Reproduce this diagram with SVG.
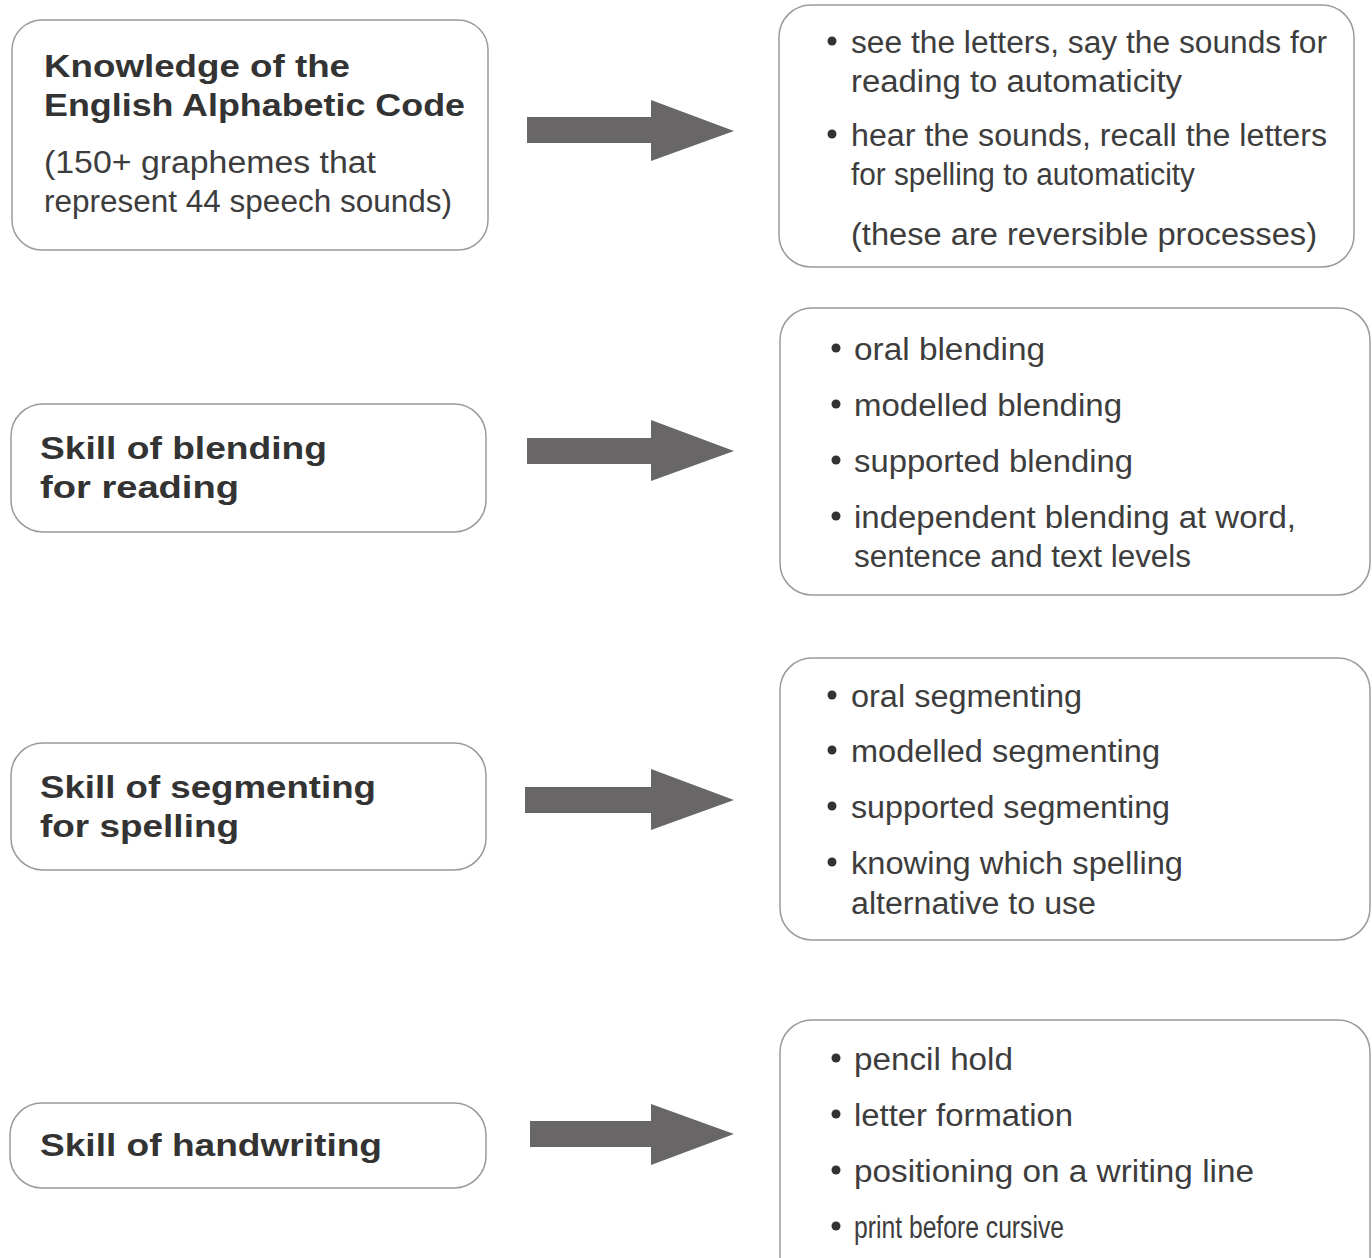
<svg xmlns="http://www.w3.org/2000/svg" width="1372" height="1258" viewBox="0 0 1372 1258">
<defs>
<style>
.box{fill:#fff;stroke:#9a9a9a;stroke-width:1.5}
.b{font-family:"Liberation Sans",Arial,sans-serif;font-weight:bold;font-size:32px;fill:#333}
.r{font-family:"Liberation Sans",Arial,sans-serif;font-size:31px;fill:#3d3d3d}
.dot{fill:#333}
.arrow{fill:#686667}
</style>
</defs>
<rect width="1372" height="1258" fill="#fff"/>

<g id="connectors">
<polygon class="arrow" points="527,117 651,117 651,100 734,131 651,161 651,143 527,143"/>
<polygon class="arrow" points="527,438 651,438 651,420 734,451 651,481 651,464 527,464"/>
<polygon class="arrow" points="525,787 651,787 651,769 734,800 651,830 651,813 525,813"/>
<polygon class="arrow" points="530,1121 651,1121 651,1104 734,1134 651,1165 651,1147 530,1147"/>
</g>

<g id="knowledge">
<rect class="box" x="12" y="20" width="476" height="230" rx="30"/>
<text class="b" x="44" y="77" textLength="306" lengthAdjust="spacingAndGlyphs">Knowledge of the</text>
<text class="b" x="44" y="116" textLength="421" lengthAdjust="spacingAndGlyphs">English Alphabetic Code</text>
<text class="r" x="44" y="173" textLength="332" lengthAdjust="spacingAndGlyphs">(150+ graphemes that</text>
<text class="r" x="44" y="212" textLength="408" lengthAdjust="spacingAndGlyphs">represent 44 speech sounds)</text>
</g>

<g id="code-detail">
<rect class="box" x="779" y="5" width="575" height="262" rx="32"/>
<circle class="dot" cx="832" cy="41" r="4.5"/>
<text class="r" x="851" y="53" textLength="476" lengthAdjust="spacingAndGlyphs">see the letters, say the sounds for</text>
<text class="r" x="851" y="92" textLength="331" lengthAdjust="spacingAndGlyphs">reading to automaticity</text>
<circle class="dot" cx="832" cy="134" r="4.5"/>
<text class="r" x="851" y="146" textLength="476" lengthAdjust="spacingAndGlyphs">hear the sounds, recall the letters</text>
<text class="r" x="851" y="185" textLength="344" lengthAdjust="spacingAndGlyphs">for spelling to automaticity</text>
<text class="r" x="851" y="245" textLength="466" lengthAdjust="spacingAndGlyphs">(these are reversible processes)</text>
</g>

<g id="blending">
<rect class="box" x="11" y="404" width="475" height="128" rx="32"/>
<text class="b" x="40" y="459" textLength="287" lengthAdjust="spacingAndGlyphs">Skill of blending</text>
<text class="b" x="40" y="498" textLength="199" lengthAdjust="spacingAndGlyphs">for reading</text>
</g>

<g id="blending-detail">
<rect class="box" x="780" y="308" width="590" height="287" rx="32"/>
<circle class="dot" cx="836" cy="348" r="4.5"/>
<text class="r" x="854" y="360" textLength="191" lengthAdjust="spacingAndGlyphs">oral blending</text>
<circle class="dot" cx="836" cy="404" r="4.5"/>
<text class="r" x="854" y="416" textLength="268" lengthAdjust="spacingAndGlyphs">modelled blending</text>
<circle class="dot" cx="836" cy="460" r="4.5"/>
<text class="r" x="854" y="472" textLength="279" lengthAdjust="spacingAndGlyphs">supported blending</text>
<circle class="dot" cx="836" cy="516" r="4.5"/>
<text class="r" x="854" y="528" textLength="442" lengthAdjust="spacingAndGlyphs">independent blending at word,</text>
<text class="r" x="854" y="567" textLength="337" lengthAdjust="spacingAndGlyphs">sentence and text levels</text>
</g>

<g id="segmenting">
<rect class="box" x="11" y="743" width="475" height="127" rx="32"/>
<text class="b" x="40" y="798" textLength="336" lengthAdjust="spacingAndGlyphs">Skill of segmenting</text>
<text class="b" x="40" y="837" textLength="199" lengthAdjust="spacingAndGlyphs">for spelling</text>
</g>

<g id="segmenting-detail">
<rect class="box" x="780" y="658" width="590" height="282" rx="32"/>
<circle class="dot" cx="832" cy="695" r="4.5"/>
<text class="r" x="851" y="707" textLength="231" lengthAdjust="spacingAndGlyphs">oral segmenting</text>
<circle class="dot" cx="832" cy="750" r="4.5"/>
<text class="r" x="851" y="762" textLength="309" lengthAdjust="spacingAndGlyphs">modelled segmenting</text>
<circle class="dot" cx="832" cy="806" r="4.5"/>
<text class="r" x="851" y="818" textLength="319" lengthAdjust="spacingAndGlyphs">supported segmenting</text>
<circle class="dot" cx="832" cy="862" r="4.5"/>
<text class="r" x="851" y="874" textLength="332" lengthAdjust="spacingAndGlyphs">knowing which spelling</text>
<text class="r" x="851" y="914" textLength="245" lengthAdjust="spacingAndGlyphs">alternative to use</text>
</g>

<g id="handwriting">
<rect class="box" x="10" y="1103" width="476" height="85" rx="32"/>
<text class="b" x="40" y="1156" textLength="342" lengthAdjust="spacingAndGlyphs">Skill of handwriting</text>
</g>

<g id="handwriting-detail">
<rect class="box" x="780" y="1020" width="590" height="270" rx="32"/>
<circle class="dot" cx="836" cy="1058" r="4.5"/>
<text class="r" x="854" y="1070" textLength="159" lengthAdjust="spacingAndGlyphs">pencil hold</text>
<circle class="dot" cx="836" cy="1114" r="4.5"/>
<text class="r" x="854" y="1126" textLength="219" lengthAdjust="spacingAndGlyphs">letter formation</text>
<circle class="dot" cx="836" cy="1170" r="4.5"/>
<text class="r" x="854" y="1182" textLength="400" lengthAdjust="spacingAndGlyphs">positioning on a writing line</text>
<circle class="dot" cx="836" cy="1226" r="4.5"/>
<text class="r" x="854" y="1238" textLength="210" lengthAdjust="spacingAndGlyphs">print before cursive</text>
</g>
</svg>
